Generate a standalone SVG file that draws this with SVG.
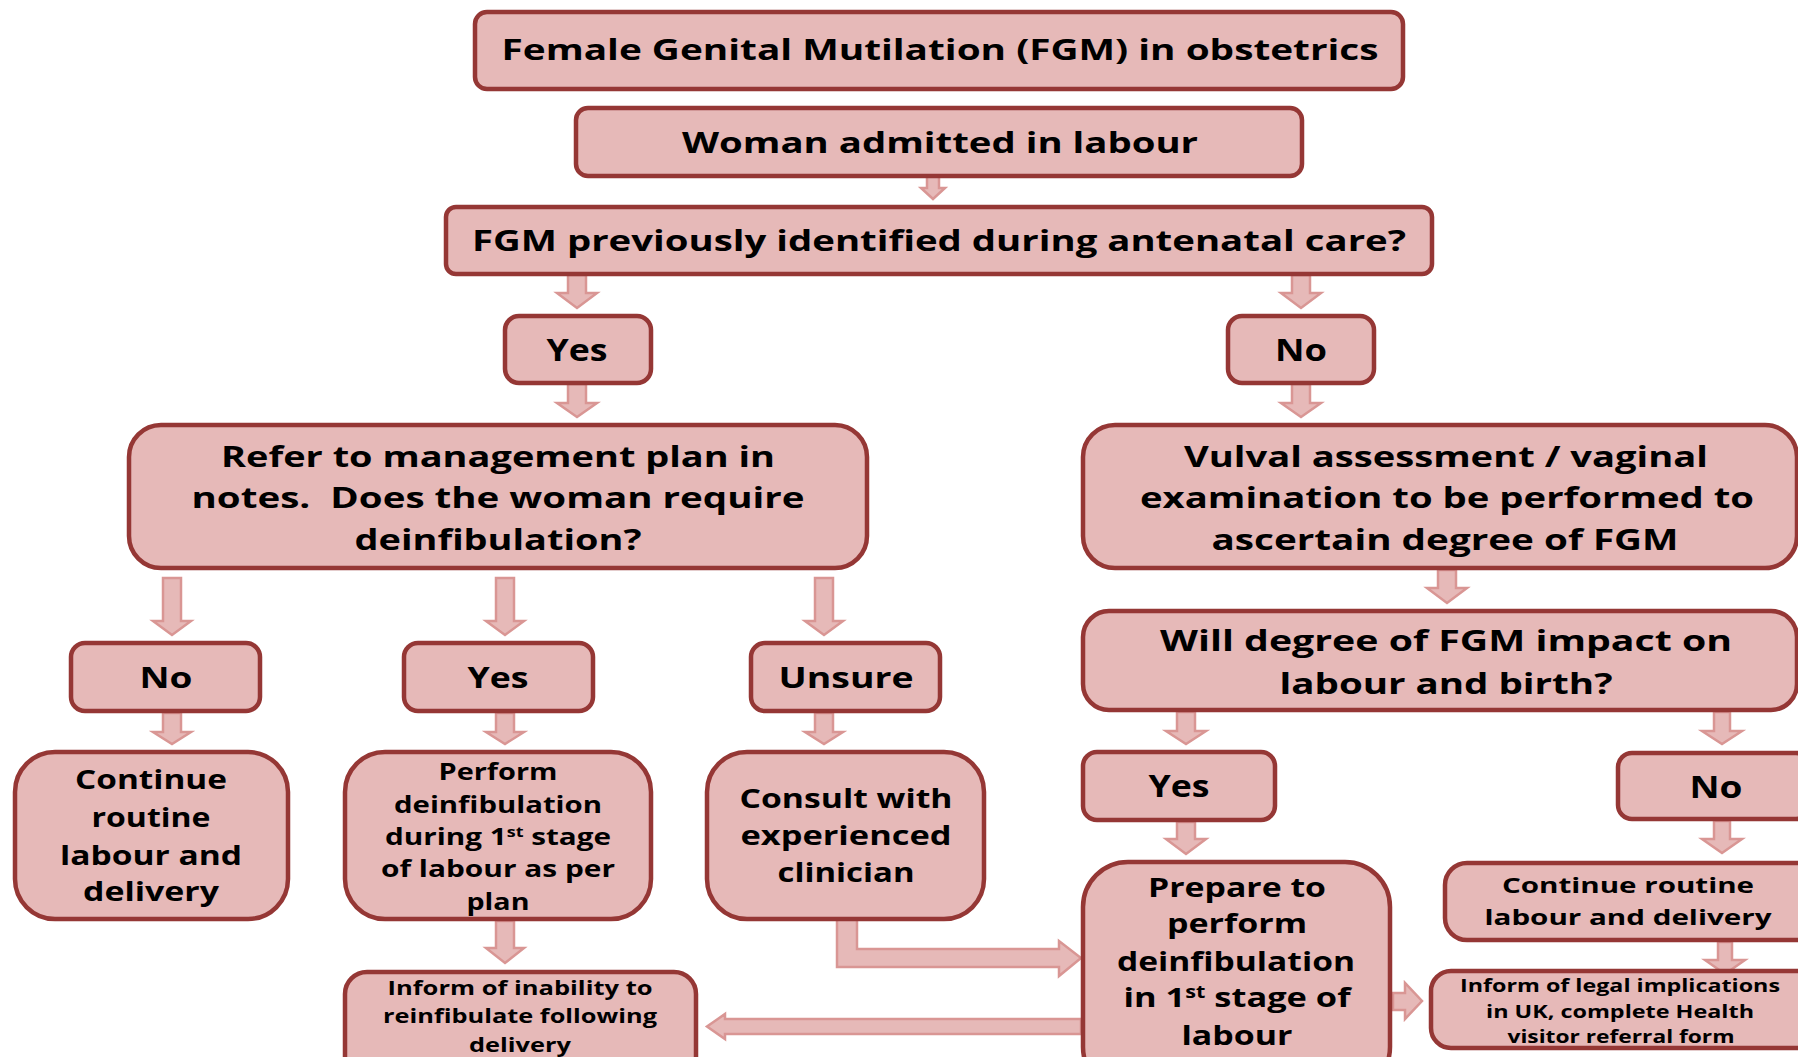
<svg xmlns="http://www.w3.org/2000/svg" width="1798" height="1057" viewBox="0 0 1798 1057">
<defs>
<style>
.box{fill:#E6B9B8;stroke:#953735;stroke-width:4.5}
.arr{fill:#E6B9B8;stroke:#D99694;stroke-width:2.5;stroke-linejoin:miter}
text{font-family:"Open Sans","Liberation Sans",sans-serif;font-weight:700;fill:#000;text-anchor:middle}
.s30{font-size:30px}.s29{font-size:29px}.s28{font-size:28px}.s27{font-size:27px}.s23{font-size:23px}.s22{font-size:22px}.s19{font-size:19px}.s17{font-size:17px}
</style>
</defs>
<rect width="1798" height="1057" fill="#fff"/>
<g id="connectors">
<path class="arr" d="M927,176 L939,176 L939,188 L945,188 L933,199 L921,188 L927,188 Z"/>
<path class="arr" d="M568,275 L586,275 L586,293 L597,293 L577,308 L557,293 L568,293 Z"/>
<path class="arr" d="M1292,275 L1310,275 L1310,293 L1321,293 L1301,308 L1281,293 L1292,293 Z"/>
<path class="arr" d="M568,384 L586,384 L586,403 L597,403 L577,417 L557,403 L568,403 Z"/>
<path class="arr" d="M1292,384 L1310,384 L1310,403 L1321,403 L1301,417 L1281,403 L1292,403 Z"/>
<path class="arr" d="M163,578 L181,578 L181,621 L191,621 L172,635 L153,621 L163,621 Z"/>
<path class="arr" d="M496,578 L514,578 L514,621 L524,621 L505,635 L486,621 L496,621 Z"/>
<path class="arr" d="M815,578 L833,578 L833,621 L843,621 L824,635 L805,621 L815,621 Z"/>
<path class="arr" d="M1438,570 L1456,570 L1456,588 L1467,588 L1447,603 L1427,588 L1438,588 Z"/>
<path class="arr" d="M163,713 L181,713 L181,732 L191,732 L172,744 L153,732 L163,732 Z"/>
<path class="arr" d="M496,713 L514,713 L514,732 L524,732 L505,744 L486,732 L496,732 Z"/>
<path class="arr" d="M815,713 L833,713 L833,732 L843,732 L824,744 L805,732 L815,732 Z"/>
<path class="arr" d="M1177,712 L1195,712 L1195,731 L1206,731 L1186,744 L1166,731 L1177,731 Z"/>
<path class="arr" d="M1714,712 L1730,712 L1730,731 L1742,731 L1722,744 L1702,731 L1714,731 Z"/>
<path class="arr" d="M1177,822 L1195,822 L1195,839 L1206,839 L1186,854 L1166,839 L1177,839 Z"/>
<path class="arr" d="M1714,821 L1730,821 L1730,839 L1742,839 L1722,853 L1702,839 L1714,839 Z"/>
<path class="arr" d="M1718,942 L1732,942 L1732,960 L1745,960 L1725,974 L1705,960 L1718,960 Z"/>
<path class="arr" d="M496,921 L514,921 L514,948 L524,948 L505,963 L486,948 L496,948 Z"/>
<path class="arr" d="M837,919 L857,919 L857,949 L1059,949 L1059,941 L1081,958 L1059,976 L1059,967 L837,967 Z"/>
<path class="arr" d="M1081,1019 L725,1019 L725,1014 L707,1026.5 L725,1039 L725,1034 L1081,1034 Z"/>
<path class="arr" d="M1393,993 L1405,993 L1405,983 L1422,1001 L1405,1019 L1405,1010 L1393,1010 Z"/>
</g>
<g id="n-title"><rect class="box" x="475" y="12" width="928" height="77" rx="12"/><text class="s28" x="940" y="60" textLength="877" lengthAdjust="spacingAndGlyphs">Female Genital Mutilation (FGM) in obstetrics</text></g>
<g id="n-woman"><rect class="box" x="576" y="108" width="726" height="68" rx="12"/><text class="s29" x="940" y="153" textLength="516" lengthAdjust="spacingAndGlyphs">Woman admitted in labour</text></g>
<g id="n-fgm"><rect class="box" x="446" y="207" width="986" height="67" rx="10"/><text class="s29" x="939" y="251" textLength="934" lengthAdjust="spacingAndGlyphs">FGM previously identified during antenatal care?</text></g>
<g id="n-yes1"><rect class="box" x="505" y="316" width="146" height="67" rx="14"/><text class="s30" x="577" y="361" textLength="61" lengthAdjust="spacingAndGlyphs">Yes</text></g>
<g id="n-no1"><rect class="box" x="1228" y="316" width="146" height="67" rx="14"/><text class="s30" x="1301" y="361" textLength="52" lengthAdjust="spacingAndGlyphs">No</text></g>
<g id="n-refer"><rect class="box" x="129" y="425" width="738" height="143" rx="32"/>
<text class="s28" x="498" y="467" textLength="554" lengthAdjust="spacingAndGlyphs">Refer to management plan in</text>
<text class="s28" x="498" y="508" textLength="613" lengthAdjust="spacingAndGlyphs" xml:space="preserve">notes.  Does the woman require</text>
<text class="s28" x="498" y="550" textLength="287" lengthAdjust="spacingAndGlyphs">deinfibulation?</text></g>
<g id="n-vulval"><rect class="box" x="1083" y="425" width="714" height="143" rx="32"/>
<text class="s28" x="1446" y="467" textLength="524" lengthAdjust="spacingAndGlyphs">Vulval assessment / vaginal</text>
<text class="s28" x="1447" y="508" textLength="614" lengthAdjust="spacingAndGlyphs">examination to be performed to</text>
<text class="s28" x="1445" y="550" textLength="467" lengthAdjust="spacingAndGlyphs">ascertain degree of FGM</text></g>
<g id="n-no2"><rect class="box" x="71" y="643" width="189" height="68" rx="14"/><text class="s29" x="166" y="688" textLength="53" lengthAdjust="spacingAndGlyphs">No</text></g>
<g id="n-yes2"><rect class="box" x="404" y="643" width="189" height="68" rx="14"/><text class="s29" x="498" y="688" textLength="61" lengthAdjust="spacingAndGlyphs">Yes</text></g>
<g id="n-unsure"><rect class="box" x="751" y="643" width="189" height="68" rx="14"/><text class="s29" x="846" y="688" textLength="135" lengthAdjust="spacingAndGlyphs">Unsure</text></g>
<g id="n-will"><rect class="box" x="1083" y="611" width="714" height="99" rx="26"/>
<text class="s29" x="1446" y="651" textLength="572" lengthAdjust="spacingAndGlyphs">Will degree of FGM impact on</text>
<text class="s29" x="1446" y="694" textLength="333" lengthAdjust="spacingAndGlyphs">labour and birth?</text></g>
<g id="n-continue1"><rect class="box" x="15" y="752" width="273" height="167" rx="40"/>
<text class="s27" x="151" y="789" textLength="152" lengthAdjust="spacingAndGlyphs">Continue</text>
<text class="s27" x="151" y="827" textLength="119" lengthAdjust="spacingAndGlyphs">routine</text>
<text class="s27" x="151" y="865" textLength="182" lengthAdjust="spacingAndGlyphs">labour and</text>
<text class="s27" x="151" y="901" textLength="136" lengthAdjust="spacingAndGlyphs">delivery</text></g>
<g id="n-perform"><rect class="box" x="345" y="752" width="306" height="167" rx="40"/>
<text class="s23" x="498" y="780" textLength="119" lengthAdjust="spacingAndGlyphs">Perform</text>
<text class="s23" x="498" y="813" textLength="208" lengthAdjust="spacingAndGlyphs">deinfibulation</text>
<text class="s23" x="498" y="845" textLength="226" lengthAdjust="spacingAndGlyphs">during 1<tspan dy="-8" font-size="14">st</tspan><tspan dy="8"> stage</tspan></text>
<text class="s23" x="498" y="877" textLength="234" lengthAdjust="spacingAndGlyphs">of labour as per</text>
<text class="s23" x="498" y="910" textLength="63" lengthAdjust="spacingAndGlyphs">plan</text></g>
<g id="n-consult"><rect class="box" x="707" y="752" width="277" height="167" rx="40"/>
<text class="s27" x="846" y="808" textLength="213" lengthAdjust="spacingAndGlyphs">Consult with</text>
<text class="s27" x="846" y="845" textLength="211" lengthAdjust="spacingAndGlyphs">experienced</text>
<text class="s27" x="846" y="882" textLength="137" lengthAdjust="spacingAndGlyphs">clinician</text></g>
<g id="n-yes3"><rect class="box" x="1083" y="752" width="192" height="68" rx="14"/><text class="s30" x="1179" y="797" textLength="61" lengthAdjust="spacingAndGlyphs">Yes</text></g>
<g id="n-no3"><rect class="box" x="1618" y="753" width="192" height="66" rx="14"/><text class="s30" x="1716" y="798" textLength="53" lengthAdjust="spacingAndGlyphs">No</text></g>
<g id="n-prepare"><rect class="box" x="1083" y="862" width="307" height="230" rx="45"/>
<text class="s27" x="1237" y="897" textLength="178" lengthAdjust="spacingAndGlyphs">Prepare to</text>
<text class="s27" x="1237" y="933" textLength="140" lengthAdjust="spacingAndGlyphs">perform</text>
<text class="s27" x="1236" y="971" textLength="238" lengthAdjust="spacingAndGlyphs">deinfibulation</text>
<text class="s27" x="1237" y="1007" textLength="227" lengthAdjust="spacingAndGlyphs">in 1<tspan dy="-9" font-size="17">st</tspan><tspan dy="9"> stage of</tspan></text>
<text class="s27" x="1237" y="1045" textLength="111" lengthAdjust="spacingAndGlyphs">labour</text></g>
<g id="n-continue2"><rect class="box" x="1445" y="863" width="380" height="77" rx="22"/>
<text class="s22" x="1628" y="893" textLength="252" lengthAdjust="spacingAndGlyphs">Continue routine</text>
<text class="s22" x="1628" y="925" textLength="287" lengthAdjust="spacingAndGlyphs">labour and delivery</text></g>
<g id="n-legal"><rect class="box" x="1431" y="971" width="400" height="77" rx="20"/>
<text class="s17" x="1620" y="992" textLength="320" lengthAdjust="spacingAndGlyphs">Inform of legal implications</text>
<text class="s17" x="1620" y="1018" textLength="268" lengthAdjust="spacingAndGlyphs">in UK, complete Health</text>
<text class="s17" x="1621" y="1043" textLength="227" lengthAdjust="spacingAndGlyphs">visitor referral form</text></g>
<g id="n-inability"><rect class="box" x="345" y="972" width="351" height="120" rx="22"/>
<text class="s19" x="520" y="995" textLength="265" lengthAdjust="spacingAndGlyphs">Inform of inability to</text>
<text class="s19" x="520" y="1023" textLength="274" lengthAdjust="spacingAndGlyphs">reinfibulate following</text>
<text class="s19" x="520" y="1052" textLength="102" lengthAdjust="spacingAndGlyphs">delivery</text></g>
</svg>
